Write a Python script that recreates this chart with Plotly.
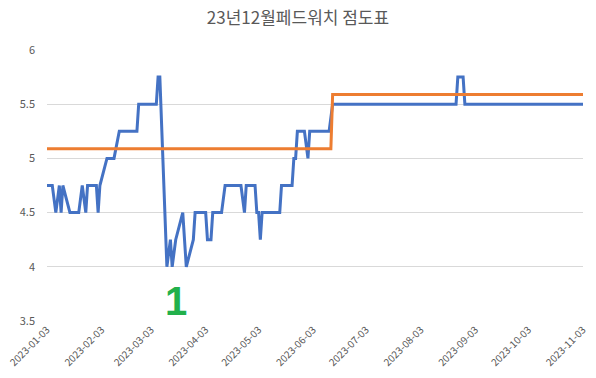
import plotly.graph_objects as go

title_text = "23년12월페드워치 점도표"

blue_dates = [
    "2023-01-03", "2023-01-06", "2023-01-08", "2023-01-10", "2023-01-11", "2023-01-12",
    "2023-01-16", "2023-01-21", "2023-01-23", "2023-01-25", "2023-01-26", "2023-01-31",
    "2023-02-01", "2023-02-02", "2023-02-06", "2023-02-10", "2023-02-13", "2023-02-23",
    "2023-02-24", "2023-03-06", "2023-03-07", "2023-03-08", "2023-03-12", "2023-03-14",
    "2023-03-15", "2023-03-17", "2023-03-21", "2023-03-23", "2023-03-27", "2023-03-28",
    "2023-04-03", "2023-04-04", "2023-04-06", "2023-04-07", "2023-04-12", "2023-04-14",
    "2023-04-23", "2023-04-25", "2023-04-26", "2023-05-01", "2023-05-02", "2023-05-03",
    "2023-05-04", "2023-05-05", "2023-05-15", "2023-05-16", "2023-05-22", "2023-05-23",
    "2023-05-24", "2023-05-25", "2023-05-29", "2023-05-31", "2023-06-01", "2023-06-12",
    "2023-06-14", "2023-08-23", "2023-08-24", "2023-08-27", "2023-08-28", "2023-11-03",
]
blue_values = [
    4.75, 4.75, 4.5, 4.75, 4.5, 4.75,
    4.5, 4.5, 4.75, 4.5, 4.75, 4.75,
    4.5, 4.75, 5.0, 5.0, 5.25, 5.25,
    5.5, 5.5, 5.75, 5.75, 4.0, 4.25,
    4.0, 4.25, 4.5, 4.0, 4.25, 4.5,
    4.5, 4.25, 4.25, 4.5, 4.5, 4.75,
    4.75, 4.5, 4.75, 4.75, 4.5, 4.5,
    4.25, 4.5, 4.5, 4.75, 4.75, 5.0,
    5.0, 5.25, 5.25, 5.0, 5.25, 5.25,
    5.5, 5.5, 5.75, 5.75, 5.5, 5.5,
]

orange_dates = ["2023-01-03", "2023-06-13", "2023-06-14", "2023-11-03"]
orange_values = [5.09, 5.09, 5.59, 5.59]

tick_dates = [
    "2023-01-03", "2023-02-03", "2023-03-03", "2023-04-03", "2023-05-03", "2023-06-03",
    "2023-07-03", "2023-08-03", "2023-09-03", "2023-10-03", "2023-11-03",
]
tick_labels = tick_dates

y_ticks = [3.5, 4, 4.5, 5, 5.5, 6]

annot_date = "2023-03-17"
annot_value = 3.68
annot_text = "1"

font_family = "Noto Sans CJK KR"
text_color = "#595959"

fig = go.Figure()
fig.add_trace(go.Scatter(
    x=blue_dates, y=blue_values, mode="lines",
    line=dict(color="#4472C4", width=3), showlegend=False,
))
fig.add_trace(go.Scatter(
    x=orange_dates, y=orange_values, mode="lines",
    line=dict(color="#ED7D31", width=3), showlegend=False,
))

fig.add_annotation(
    x=annot_date, y=annot_value, text=f"<b>{annot_text}</b>", showarrow=False,
    font=dict(family="Liberation Sans", size=40, color="#22B04B"),
)

fig.update_layout(
    width=596, height=378,
    margin=dict(l=47, r=13, t=50, b=57),
    paper_bgcolor="white", plot_bgcolor="white",
    title=dict(text=title_text, x=0.5, xanchor="center", y=0.952, yanchor="middle",
               font=dict(family=font_family, size=17, color=text_color)),
    font=dict(family=font_family, color=text_color, size=10),
    xaxis=dict(
        type="date", range=["2023-01-03", "2023-11-03"],
        tickvals=tick_dates, ticktext=tick_labels, tickangle=-45,
        showgrid=False, zeroline=False, showline=False, automargin=False,
        tickfont=dict(size=10, color=text_color),
    ),
    yaxis=dict(
        range=[3.5, 6], tickvals=y_ticks, showgrid=True, gridcolor="#D9D9D9",
        gridwidth=1, zeroline=False, showline=False, automargin=False,
        tickfont=dict(size=11, color=text_color), ticklen=0, ticks="",
        ticklabelstandoff=11,
    ),
)

fig.write_html(
    "out.html",
    config={"displayModeBar": False},
    post_script="document.body.style.margin='0';document.body.style.overflow='hidden';",
)
